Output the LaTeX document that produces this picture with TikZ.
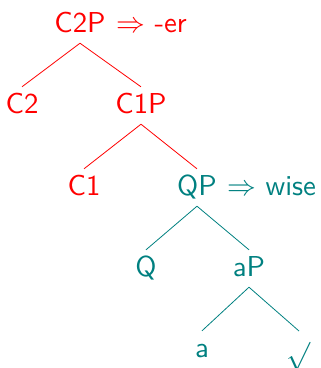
\documentclass[tikz,border=0pt]{standalone}
\usepackage{tikz}
\usepackage{graphicx}

% tree labels: 10pt sans, blown up
\newcommand{\treelabel}[1]{\scalebox{2.88}{\fontsize{10}{12}\selectfont\sffamily #1}}

\begin{document}
\begin{tikzpicture}[
    x=1pt, y=-1pt,
    cat/.style={text height=21pt, text depth=6pt, inner sep=5pt, anchor=base},
    spell/.style={inner sep=0pt, anchor=base west},
    upper/.style={text=red},
    lower/.style={text=teal},
    uedge/.style={red, line width=0.8pt},
    ledge/.style={teal, line width=0.8pt}
]
\useasboundingbox (0,0) rectangle (321,368);
% ----- C layer -----
\node[cat, upper] (c2p) at (80,32) {\treelabel{C2P}};
\node[spell, upper] (er) at (116,32) {\treelabel{$\Rightarrow$ -er}};
\node[cat, upper] (c2) at (22,113) {\treelabel{C2}};
\node[cat, upper] (c1p) at (141,113) {\treelabel{C1P}};
\node[cat, upper] (c1) at (84,195) {\treelabel{C1}};
% ----- Q layer -----
\node[cat, lower] (qp) at (197,195) {\treelabel{QP}};
\node[spell, lower] (wise) at (227,195) {\treelabel{$\Rightarrow$ wise}};
\node[cat, lower] (q) at (146,276) {\treelabel{Q}};
\node[cat, lower] (ap) at (249,276) {\treelabel{aP}};
\node[cat, lower] (a) at (202,357) {\treelabel{a}};
\node[cat, lower, text height=, text depth=, inner sep=0pt, inner ysep=11pt, anchor=north] (root) at (299,331) {\treelabel{$\surd$}};
% ----- edges -----
\draw[uedge] (c2p.south) -- (c2.north);
\draw[uedge] (c2p.south) -- (c1p.north);
\draw[uedge] (c1p.south) -- (c1.north);
\draw[uedge] (c1p.south) -- (qp.north);
\draw[ledge] (qp.south) -- (q.north);
\draw[ledge] (qp.south) -- (ap.north);
\draw[ledge] (ap.south) -- (a.north);
\draw[ledge] (ap.south) -- (root.north);
\end{tikzpicture}
\end{document}
